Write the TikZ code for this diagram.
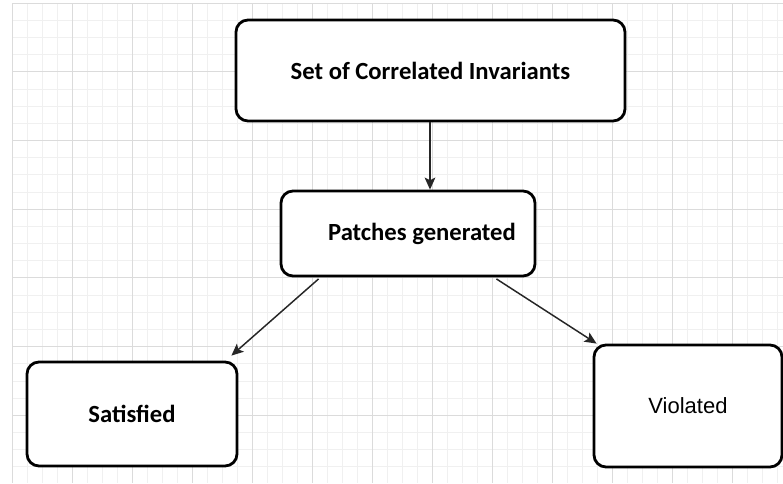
\documentclass[tikz,border=0pt]{standalone}
\usepackage{fontspec}
\setmainfont{Carlito}
\newfontfamily\plainsans{Liberation Sans}
\usetikzlibrary{arrows.meta,calc}

\tikzset{
  x=0.75pt, y=-0.75pt,
  minorgrid/.style={draw=black!6, line width=0.5pt},
  majorgrid/.style={draw=black!14, line width=0.6pt},
  state/.style={draw=black, fill=white, line width=2.1pt, rounded corners=9pt,
    font=\fontsize{18.5pt}{22pt}\selectfont\bfseries, align=center, inner sep=0pt},
  link/.style={draw=black!85, line width=1.1pt,
    -{Stealth[length=9pt, width=8pt, inset=2pt]}},
}

\begin{document}
\begin{tikzpicture}
  % canvas
  \useasboundingbox (0,0) rectangle (783,483);
  \fill[white] (0,0) rectangle (783,483);

  % background grid: fine lines first, then the heavier every-fourth lines
  \foreach \i in {0,...,51} {
    \draw[minorgrid] ({12+\i*15},3) -- ({12+\i*15},483);
  }
  \foreach \j in {0,...,28} {
    \draw[minorgrid] (12,{3+\j*17.175}) -- (783,{3+\j*17.175});
  }
  \foreach \i in {0,...,12} {
    \draw[majorgrid] ({12+\i*60},3) -- ({12+\i*60},483);
  }
  \foreach \j in {0,...,7} {
    \draw[majorgrid] (12,{3+\j*68.7}) -- (783,{3+\j*68.7});
  }

  % states
  \node[state, minimum width=291.75pt, minimum height=75.75pt] (inv) at (430.5,70.5)
    {Set of Correlated Invariants};
  \node[state, minimum width=190.5pt, minimum height=63.75pt] (patch) at (408,233.5)
    {\hspace*{21pt}Patches generated};
  \node[state, minimum width=157.5pt, minimum height=78pt] (sat) at (132,414)
    {Satisfied};
  \node[state, minimum width=141pt, minimum height=91.5pt,
        font=\plainsans\fontsize{16.5pt}{20pt}\selectfont] (vio) at (688,406)
    {Violated};

  % transitions
  \draw[link] (inv.south -| 430,0) -- (patch.north -| 430,0);
  \draw[link] ($(patch.south west)+(39,1.5)$) -- ($(sat.north east)+(-7,-5)$);
  \draw[link] ($(patch.south east)+(-40,1.5)$) -- ($(vio.north west)+(4,0)$);
\end{tikzpicture}
\end{document}
